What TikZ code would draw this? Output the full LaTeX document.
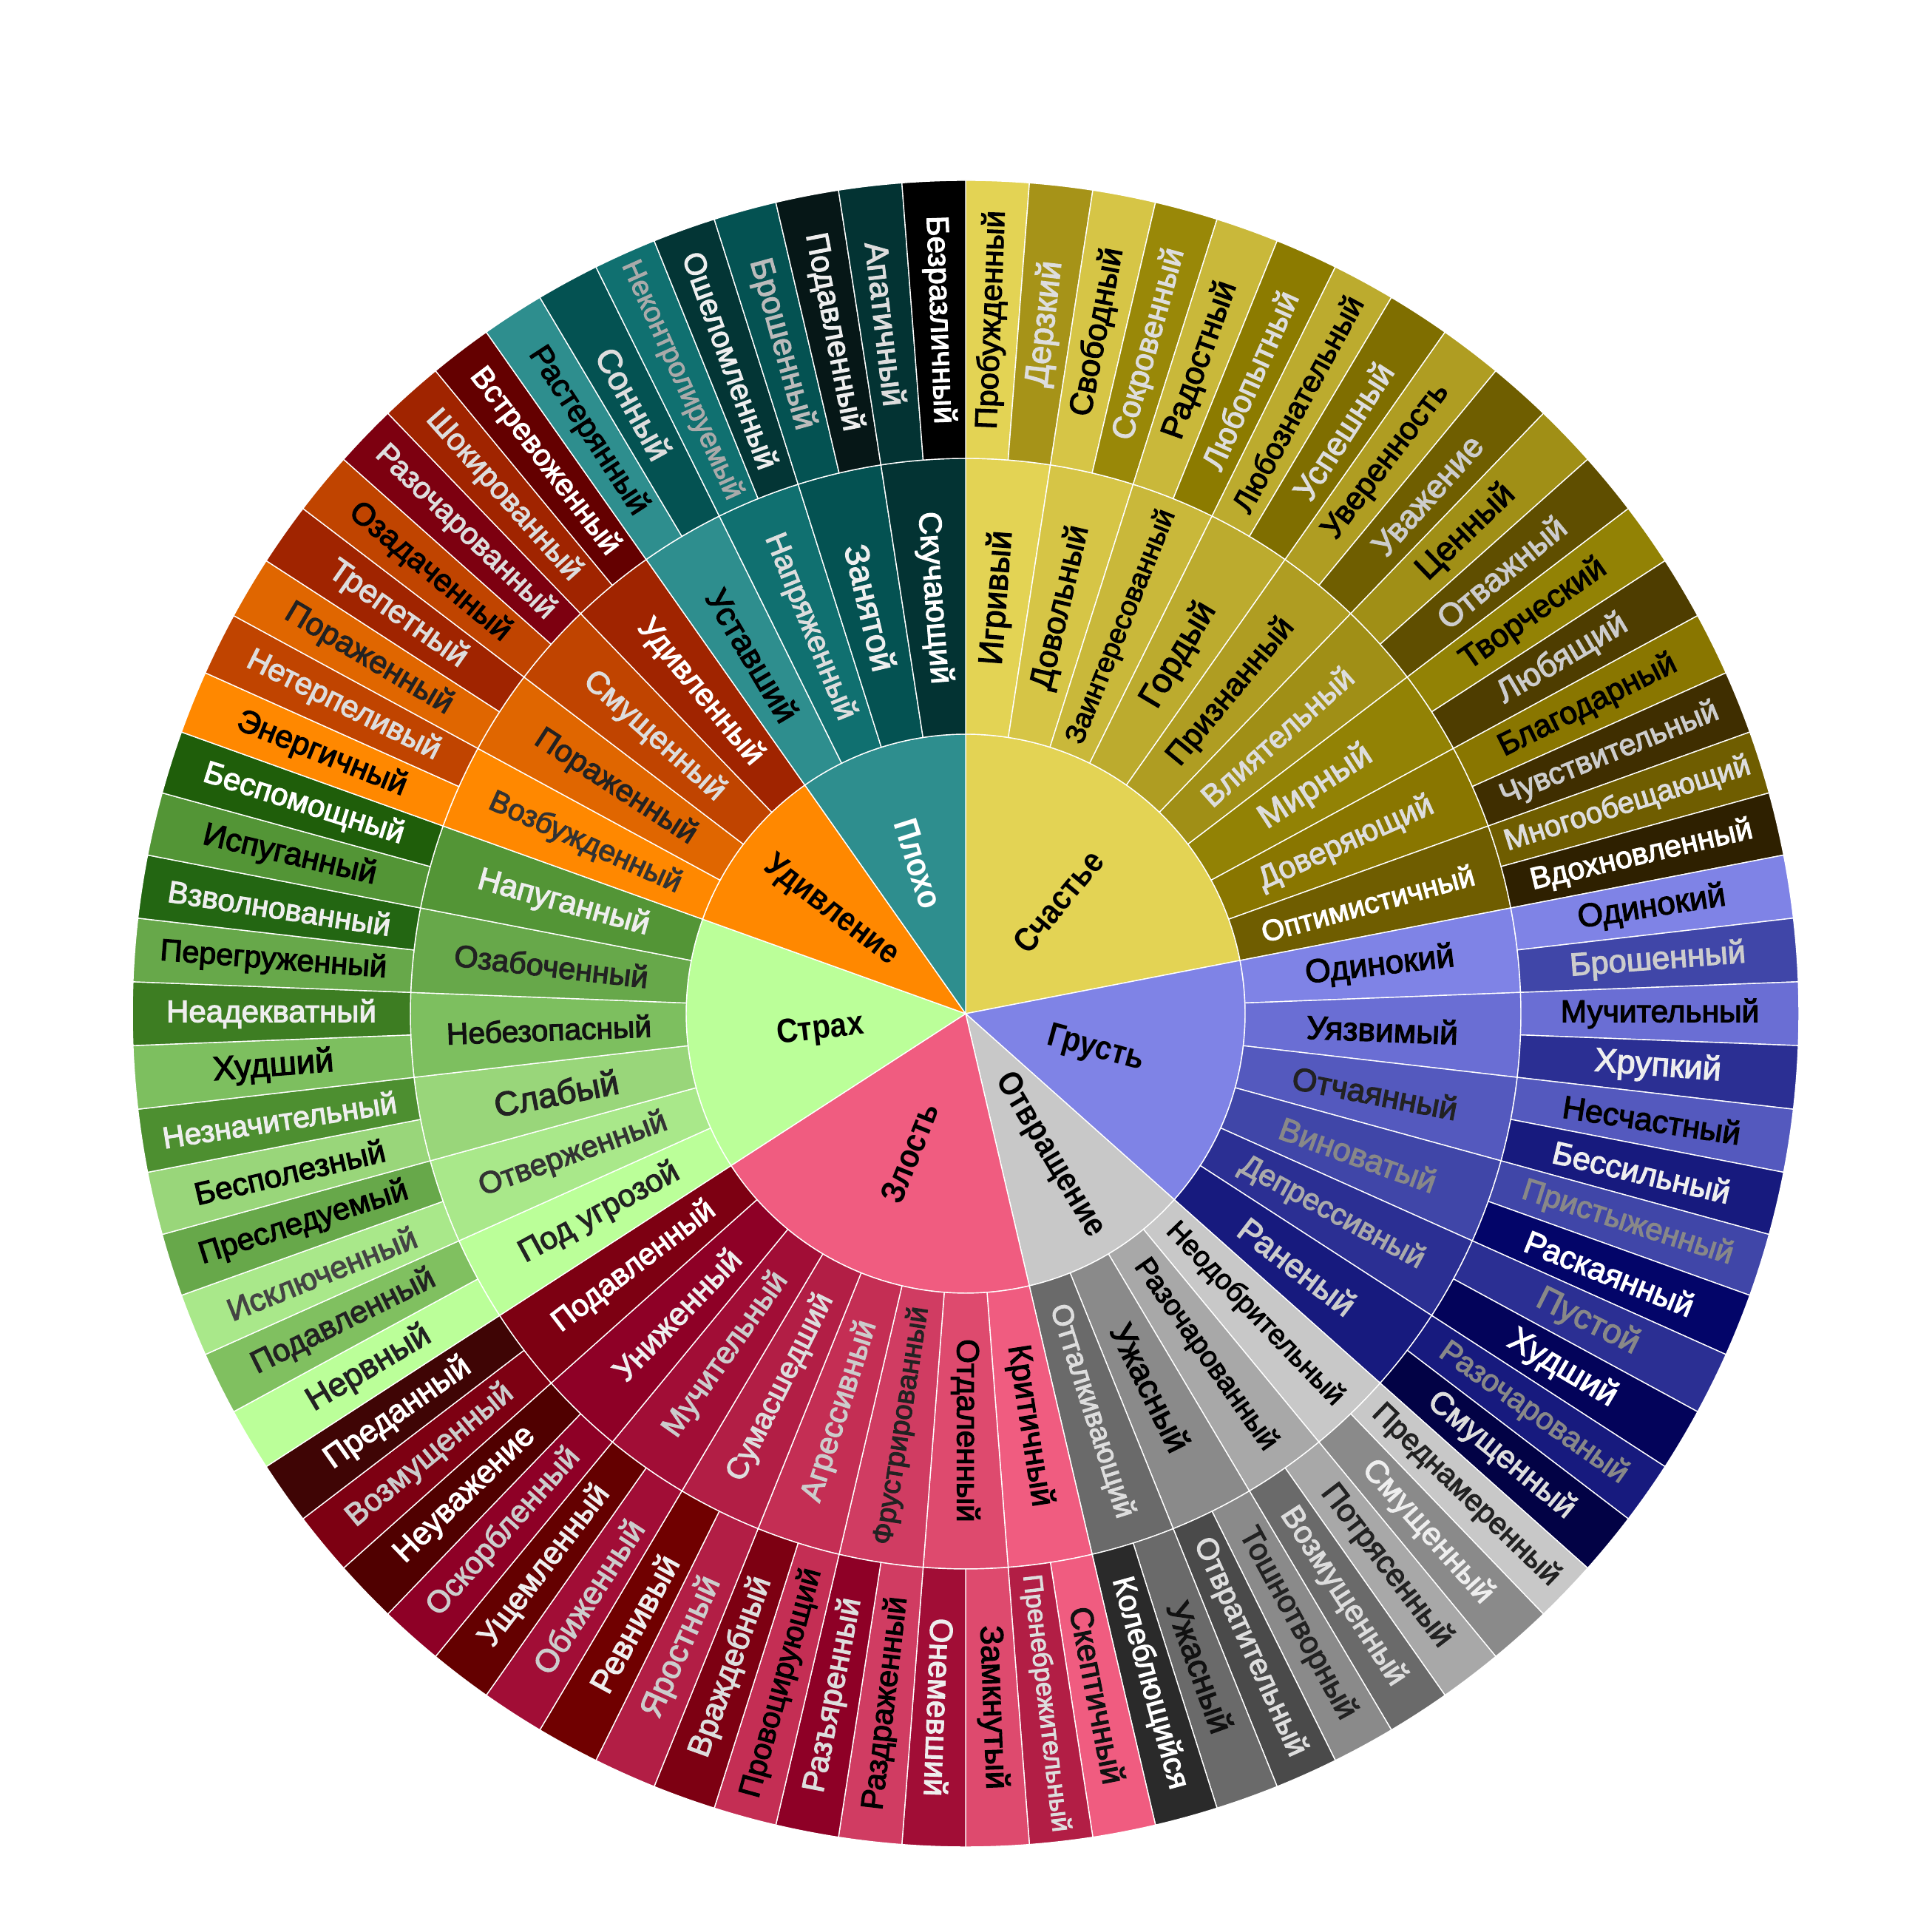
\documentclass[tikz,border=0pt]{standalone}
\usepackage{fontspec}
\usepackage{graphicx}
\setmainfont{Liberation Sans}
\newfontface\labface{Liberation Sans}[FakeBold=2.8]
\newfontfamily\innfam{Liberation Sans}[FakeStretch=0.88]
\newcommand\innfont{\innfam\bfseries\fontsize{13pt}{15pt}\selectfont}
\newcommand\labfont{\labface\fontsize{13.09pt}{15pt}\selectfont}
\newcounter{labc}
\newsavebox\labbox
\newcommand\leafang{4.390243902}
\tikzset{sep/.style={draw=white, line width=0.4pt, line join=round}}

\newcommand\drawsector[5]{%
  \definecolor{fc}{HTML}{#5}%
  \ifdim #1pt=0pt
    \path[sep, fill=fc] (0,0) -- (#3:#2cm) arc[start angle=#3, end angle=#4, radius=#2cm] -- cycle;
  \else
    \path[sep, fill=fc] (#3:#1cm) arc[start angle=#3, end angle=#4, radius=#1cm] -- (#4:#2cm) arc[start angle=#4, end angle=#3, radius=#2cm] -- cycle;
  \fi
}

% text fitted inside its sector (measured inside the node, where fonts are live)
% #1 centre radius px, #2 half angle, #3 max length px, #4 font, #5 text, #6 effective height px
\newcommand\fitlabel[6]{%
  \sbox\labbox{#4#5}%
  \pgfmathsetmacro\wpx{max(1,\wd\labbox/0.28453)}%
  \pgfmathsetmacro\tph{tan(#2)}%
  \pgfmathsetmacro\sc{min(1,2*\tph*#1/(#6+\wpx*\tph),#3/\wpx)}%
  \scalebox{\sc}{\usebox\labbox}%
}

\newcommand\putlabel[8]{%
  \pgfmathsetmacro\mm{#1<-180 ? #1+360 : #1}%
  \pgfmathsetmacro\rot{\mm>90 ? \mm-180 : (\mm<-93 ? \mm+180 : \mm)}%
  \pgfmathsetmacro\rcm{#2/100}%
  \definecolor{tc}{HTML}{#5}%
  \stepcounter{labc}%
  \node[text=tc, inner sep=0pt, rotate=\rot] (lab\arabic{labc}) at (\mm:\rcm cm) {\fitlabel{#2}{#3}{#4}{#7}{#6}{#8}};
}

% fill pass
\newcommand\fillpass{%
  \def\SI##1##2##3##4##5##6{\pgfmathsetmacro\aA{90-##1*\leafang}\pgfmathsetmacro\aB{90-(##1+##2)*\leafang}\drawsector{0}{3.78}{\aA}{\aB}{##3}}%
  \def\SM##1##2##3##4##5{\pgfmathsetmacro\aA{90-##1*\leafang}\pgfmathsetmacro\aB{90-(##1+##2)*\leafang}\drawsector{3.78}{7.51}{\aA}{\aB}{##3}}%
  \def\SO##1##2##3##4{\pgfmathsetmacro\aA{90-##1*\leafang}\pgfmathsetmacro\aB{90-(##1+1)*\leafang}\drawsector{7.51}{11.27}{\aA}{\aB}{##2}}%
}
% text pass
\newcommand\textpass{%
  \def\SI##1##2##3##4##5##6{\pgfmathsetmacro\aM{90-(##1+##2/2)*\leafang}\putlabel{\aM}{##6}{80}{2000}{##4}{##5}{\innfont}{73.6}}%
  \def\SM##1##2##3##4##5{\pgfmathsetmacro\aM{90-(##1+##2/2)*\leafang}\pgfmathsetmacro\hA{##2*\leafang/2}\putlabel{\aM}{564}{\hA}{345}{##4}{##5}{\labfont}{73.6}}%
  \def\SO##1##2##3##4{\pgfmathsetmacro\aM{90-(##1+0.5)*\leafang}\pgfmathsetmacro\hA{\leafang/2}\putlabel{\aM}{939}{\hA}{350}{##3}{##4}{\labfont}{66.8}}%
}

\newcommand\alldata{%
% ---------------- Счастье
\SI{0}{18}{E3D354}{000000}{Счастье}{197}
\SM{0}{2}{E3D354}{000000}{Игривый}
\SM{2}{2}{D6C546}{000000}{Довольный}
\SM{4}{2}{C9B83A}{000000}{Заинтересованный}
\SM{6}{2}{BCAB2E}{000000}{Гордый}
\SM{8}{2}{AF9D22}{000000}{Признанный}
\SM{10}{2}{A08F16}{DDDDDD}{Влиятельный}
\SM{12}{2}{928205}{DDDDDD}{Мирный}
\SM{14}{2}{897600}{DDDDDD}{Доверяющий}
\SM{16}{2}{6F5D00}{FFFFFF}{Оптимистичный}
\SO{0}{E3D354}{000000}{Пробужденный}
\SO{1}{A69318}{DDDDDD}{Дерзкий}
\SO{2}{D6C546}{000000}{Свободный}
\SO{3}{998808}{DDDDDD}{Сокровенный}
\SO{4}{C9B83A}{000000}{Радостный}
\SO{5}{8C7B00}{DDDDDD}{Любопытный}
\SO{6}{BCAB2E}{000000}{Любознательный}
\SO{7}{7F6E00}{DDDDDD}{Успешный}
\SO{8}{AF9D22}{000000}{Уверенность}
\SO{9}{6F5E00}{CCCCCC}{Уважение}
\SO{10}{A08F16}{000000}{Ценный}
\SO{11}{5F4E00}{CCCCCC}{Отважный}
\SO{12}{928205}{000000}{Творческий}
\SO{13}{4E3D00}{CCCCCC}{Любящий}
\SO{14}{897600}{000000}{Благодарный}
\SO{15}{3F2E00}{CCCCCC}{Чувствительный}
\SO{16}{6F5D00}{DDDDDD}{Многообещающий}
\SO{17}{2E2000}{FFFFFF}{Вдохновленный}
% ---------------- Грусть
\SI{18}{12}{7F83E6}{000000}{Грусть}{182}
\SM{18}{2}{7F83E6}{000000}{Одинокий}
\SM{20}{2}{6A6ED4}{000000}{Уязвимый}
\SM{22}{2}{5459BE}{222222}{Отчаянный}
\SM{24}{2}{4046A8}{888888}{Виноватый}
\SM{26}{2}{2B2F93}{AAAAAA}{Депрессивный}
\SM{28}{2}{171A7E}{CCCCCC}{Раненый}
\SO{18}{7F83E6}{000000}{Одинокий}
\SO{19}{4046A8}{CCCCCC}{Брошенный}
\SO{20}{6A6ED4}{000000}{Мучительный}
\SO{21}{2B2F93}{EEEEEE}{Хрупкий}
\SO{22}{5459BE}{000000}{Несчастный}
\SO{23}{171A7E}{EEEEEE}{Бессильный}
\SO{24}{4046A8}{888888}{Пристыженный}
\SO{25}{030569}{FFFFFF}{Раскаянный}
\SO{26}{2B2F93}{888888}{Пустой}
\SO{27}{03035A}{FFFFFF}{Худший}
\SO{28}{171A7E}{888888}{Разочарованый}
\SO{29}{020245}{DDDDDD}{Смущенный}
% ---------------- Отвращение
\SI{30}{8}{C8C8C8}{000000}{Отвращение}{223}
\SM{30}{2}{C8C8C8}{000000}{Неодобрительный}
\SM{32}{2}{A8A8A8}{000000}{Разочарованный}
\SM{34}{2}{8A8A8A}{000000}{Ужасный}
\SM{36}{2}{6A6A6A}{DDDDDD}{Отталкивающий}
\SO{30}{C8C8C8}{222222}{Преднамеренный}
\SO{31}{8A8A8A}{EEEEEE}{Смущенный}
\SO{32}{A8A8A8}{222222}{Потрясенный}
\SO{33}{6A6A6A}{DDDDDD}{Возмущенный}
\SO{34}{8A8A8A}{222222}{Тошнотворный}
\SO{35}{4A4A4A}{DDDDDD}{Отвратительный}
\SO{36}{6A6A6A}{111111}{Ужасный}
\SO{37}{2A2A2A}{FFFFFF}{Колеблющийся}
% ---------------- Злость
\SI{38}{16}{F05C80}{000000}{Злость}{203}
\SM{38}{2}{F05C80}{000000}{Критичный}
\SM{40}{2}{DE4A6E}{000000}{Отдаленный}
\SM{42}{2}{D03C62}{222222}{Фрустрированный}
\SM{44}{2}{C42E54}{CCCCCC}{Агрессивный}
\SM{46}{2}{B21E45}{DDDDDD}{Сумасшедший}
\SM{48}{2}{A10D36}{CCCCCC}{Мучительный}
\SM{50}{2}{8E0026}{EEEEEE}{Униженный}
\SM{52}{2}{7D0012}{FFFFFF}{Подавленный}
\SO{38}{F05C80}{111111}{Скептичный}
\SO{39}{B21E45}{DDDDDD}{Пренебрежительный}
\SO{40}{DE4A6E}{000000}{Замкнутый}
\SO{41}{A10D36}{EEEEEE}{Онемевший}
\SO{42}{D03C62}{000000}{Раздраженный}
\SO{43}{8E0026}{DDDDDD}{Разъяренный}
\SO{44}{C42E54}{000000}{Провоцирующий}
\SO{45}{7D0012}{DDDDDD}{Враждебный}
\SO{46}{B21E45}{CCCCCC}{Яростный}
\SO{47}{700000}{EEEEEE}{Ревнивый}
\SO{48}{A10D36}{CCCCCC}{Обиженный}
\SO{49}{640000}{EEEEEE}{Ущемленный}
\SO{50}{8E0026}{CCCCCC}{Оскорбленный}
\SO{51}{500000}{FFFFFF}{Неуважение}
\SO{52}{7D0012}{CCCCCC}{Возмущенный}
\SO{53}{3F0505}{FFFFFF}{Преданный}
% ---------------- Страх
\SI{54}{12}{BBFF99}{000000}{Страх}{198}
\SM{54}{2}{BBFF99}{222222}{Под угрозой}
\SM{56}{2}{A9E88A}{333333}{Отверженный}
\SM{58}{2}{99D67A}{222222}{Слабый}
\SM{60}{2}{7DBF5F}{111111}{Небезопасный}
\SM{62}{2}{67A84A}{222222}{Озабоченный}
\SM{64}{2}{539536}{EEEEEE}{Напуганный}
\SO{54}{BBFF99}{222222}{Нервный}
\SO{55}{80C060}{222222}{Подавленный}
\SO{56}{A9E88A}{444444}{Исключенный}
\SO{57}{67A84A}{000000}{Преследуемый}
\SO{58}{99D67A}{000000}{Бесполезный}
\SO{59}{4D8F30}{EEEEEE}{Незначительный}
\SO{60}{7DBF5F}{000000}{Худший}
\SO{61}{3D7D22}{EEEEEE}{Неадекватный}
\SO{62}{67A84A}{000000}{Перегруженный}
\SO{63}{236612}{EEEEEE}{Взволнованный}
\SO{64}{539536}{000000}{Испуганный}
\SO{65}{1F5E0A}{FFFFFF}{Беспомощный}
% ---------------- Удивление
\SI{66}{8}{FF8800}{000000}{Удивление}{229}
\SM{66}{2}{FF8800}{333333}{Возбужденный}
\SM{68}{2}{E06600}{222222}{Пораженный}
\SM{70}{2}{C04400}{DDDDDD}{Смущенный}
\SM{72}{2}{A02400}{FFFFFF}{Удивленный}
\SO{66}{FF8800}{000000}{Энергичный}
\SO{67}{C04400}{DDDDDD}{Нетерпеливый}
\SO{68}{E06600}{222222}{Пораженный}
\SO{69}{A02400}{DDDDDD}{Трепетный}
\SO{70}{C04400}{000000}{Озадаченный}
\SO{71}{7D0010}{DDDDDD}{Разочарованный}
\SO{72}{A02400}{DDDDDD}{Шокированный}
\SO{73}{640000}{FFFFFF}{Встревоженный}
% ---------------- Плохо
\SI{74}{8}{2E8E8E}{FFFFFF}{Плохо}{213}
\SM{74}{2}{2E8E8E}{000000}{Уставший}
\SM{76}{2}{107070}{DDDDDD}{Напряженный}
\SM{78}{2}{045252}{EEEEEE}{Занятой}
\SM{80}{2}{033333}{FFFFFF}{Скучающий}
\SO{74}{2E8E8E}{000000}{Растерянный}
\SO{75}{045252}{DDDDDD}{Сонный}
\SO{76}{107070}{AAAAAA}{Неконтролируемый}
\SO{77}{033535}{EEEEEE}{Ошеломленный}
\SO{78}{045252}{BBBBBB}{Брошенный}
\SO{79}{061717}{EEEEEE}{Подавленный}
\SO{80}{033333}{DDDDDD}{Апатичный}
\SO{81}{000000}{FFFFFF}{Безразличный}
}

\begin{document}
\begin{tikzpicture}
\fill[white] (0,0) rectangle (26.13cm,26.13cm);
\useasboundingbox (0,0) rectangle (26.13cm,26.13cm);
\begin{scope}[shift={(13.06cm,12.42cm)}]
  \fillpass
  \alldata
  \textpass
  \alldata
\end{scope}
\end{tikzpicture}
\end{document}
